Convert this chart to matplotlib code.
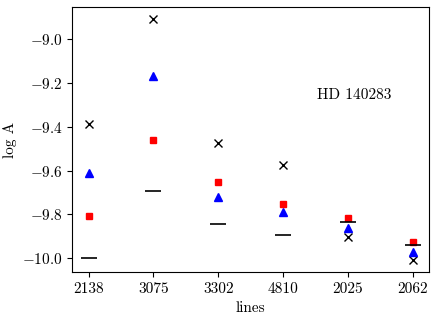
import matplotlib

matplotlib.use("Agg")  # headless
import matplotlib.pyplot as plt
import numpy as np

plt.rcParams["font.family"] = "serif"
plt.rcParams["font.serif"] = ["cmr10"]
plt.rcParams["mathtext.fontset"] = "cm"
plt.rcParams["axes.formatter.use_mathtext"] = True
plt.rcParams["font.size"] = 11

lines = ["2138", "3075", "3302", "4810", "2025", "2062"]
# log A values per line
cross = [-9.388, -8.907, -9.475, -9.575, -9.901, -10.010]
triangle = [-9.612, -9.165, -9.719, -9.789, -9.863, -9.971]
square = [-9.808, -9.460, -9.650, -9.751, -9.817, -9.927]
dash = [-10.000, -9.693, -9.843, -9.894, -9.834, -9.942]

x = np.arange(len(lines))
fig = plt.figure(figsize=(4.36, 3.19), dpi=100)
ax = fig.add_axes([0.166, 0.146, 0.818, 0.832])

ax.plot(x, cross, "x", color="k", ms=5.5, mew=1.0)
ax.plot(x, triangle, "^", color="b", ms=5.5)
ax.plot(x, square, "s", color="r", ms=5)
ax.plot(x, dash, "_", color="k", ms=11, mew=1.2)

ax.text(4.1, -9.255, "HD 140283", ha="center", va="center")
ax.set_xticks(x)
ax.set_xticklabels(lines)
ax.set_xlabel("lines")
ax.set_ylabel("log A")

fig.savefig("out.png", dpi=100)
